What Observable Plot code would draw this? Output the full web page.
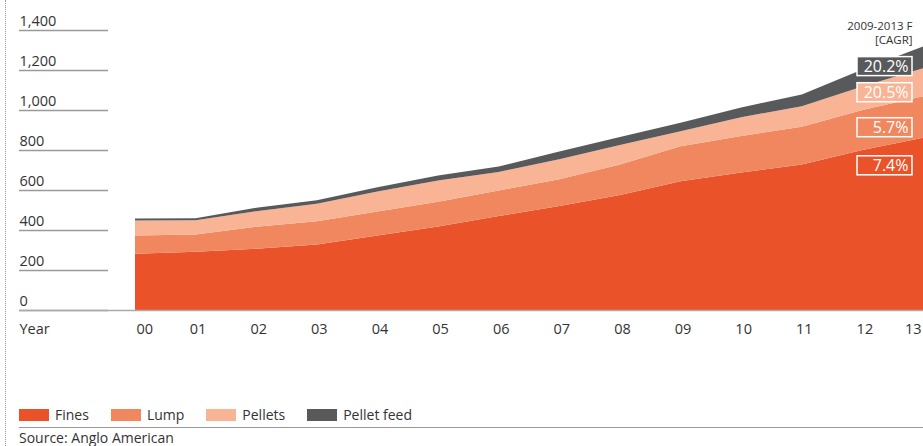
<!DOCTYPE html>
<html>
<head>
<meta charset="utf-8">
<script src="https://cdn.jsdelivr.net/npm/d3@7"></script>
<script src="https://cdn.jsdelivr.net/npm/@observablehq/plot@0.6"></script>
<style>
  html, body { margin: 0; padding: 0; background: #fff; }
  #wrap { position: relative; width: 923px; height: 446px; overflow: hidden; font-family: "Open Sans", sans-serif; color: #333; }
  #dots { position: absolute; left: 5px; top: 0; bottom: 0; border-left: 1px dotted #999; }
  #legend { position: absolute; left: 19px; top: 406px; display: flex; align-items: center; font-size: 14px; line-height: 17px; }
  #legend .item { display: flex; align-items: center; margin-right: 22px; }
  #legend .sw { width: 30px; height: 12px; margin-right: 6px; }
  #rule { position: absolute; left: 19px; right: 0; top: 427px; border-top: 1.5px solid #9a9a9a; }
  #source { position: absolute; left: 19px; top: 428px; font-size: 14px; line-height: 19px; }
</style>
</head>
<body>
<div id="wrap">
  <div id="chart"></div>
  <div id="legend"></div>
  <div id="rule"></div>
  <div id="source">Source: Anglo American</div>
  <div id="dots"></div>
</div>
<script>
// Seaborne iron ore demand by product, 2000–2013 (2009–2013 forecast)
const years = [2000, 2001, 2002, 2003, 2004, 2005, 2006, 2007, 2008, 2009, 2010, 2011, 2012, 2013];
const yearLabels = ["00", "01", "02", "03", "04", "05", "06", "07", "08", "09", "10", "11", "12", "13"];
const fines      = [281, 291, 306, 327, 372, 417, 470, 520, 575, 644, 688, 727, 800, 861];
const lump       = [91, 86, 110, 117, 120, 124, 128, 134, 152, 175, 182, 189, 200, 208];
const pellets    = [75, 72, 78, 87, 100, 106, 92, 100, 98, 75, 94, 103, 117, 140];
const pelletFeed = [10, 10, 17, 18, 22, 25, 28, 38, 40, 42, 48, 59, 85, 108];
const series = ["Fines", "Lump", "Pellets", "Pellet feed"];
const cagr = ["7.4%", "5.7%", "20.5%", "20.2%"];
const yTicks = [0, 200, 400, 600, 800, 1000, 1200, 1400];

const colors = ["#EA5329", "#F1875E", "#F8B494", "#58595B"];
const seriesValues = [fines, lump, pellets, pelletFeed];

const rows = series.flatMap((s, i) =>
  years.map((year, j) => ({series: s, year, value: seriesValues[i][j]}))
);

// Growth-rate boxes sit just under the top of each band at the final year
const last = years.length - 1;
let running = 0;
const notes = series.map((s, i) => {
  running += seriesValues[i][last];
  return {series: s, year: years[last], top: running, label: cagr[i], color: colors[i]};
});
const noteShift = {"Fines": 27.5, "Lump": 31, "Pellets": 24, "Pellet feed": 19.5};

const labelFont = 14.5;
const textColor = "#333";

const noteMarks = notes.flatMap(n => [
  Plot.rect([n], {
    x1: "year", x2: "year", y1: "top", y2: "top",
    insetLeft: -66, insetRight: 11, insetTop: -9.5, insetBottom: -9.5,
    dy: noteShift[n.series],
    fill: n.color, stroke: "white", strokeWidth: 1.5
  }),
  Plot.text([n], {
    x: "year", y: "top", text: "label",
    dx: -15, dy: noteShift[n.series],
    textAnchor: "end", fill: "white", fontSize: 16
  })
]);

const chart = Plot.plot({
  width: 923,
  height: 345,
  marginLeft: 135,
  marginRight: 0,
  marginTop: 30,
  marginBottom: 35,
  style: {fontFamily: "'Open Sans', sans-serif", overflow: "visible", background: "white"},
  x: {domain: [years[0], years[last]], axis: null},
  y: {domain: [0, 1400], axis: null},
  color: {domain: series, range: colors},
  marks: [
    Plot.areaY(rows, {x: "year", y: "value", fill: "series", order: series, curve: "linear"}),
    // short value rules to the left of the plot, with labels sitting on them
    Plot.ruleY(yTicks, {y: d => d, stroke: "#9a9a9a", strokeWidth: 1.3, insetLeft: -116, insetRight: 815}),
    Plot.ruleY([0], {stroke: "#aaa", strokeWidth: 1.5, insetLeft: -116}),
    Plot.text(yTicks, {
      y: d => d, text: d => d3.format(",")(d), frameAnchor: "left",
      textAnchor: "start", dx: -116, dy: -9, fontSize: labelFont, fill: textColor
    }),
    // year labels along the bottom
    Plot.text(["Year"], {text: d => d, frameAnchor: "bottom-left", textAnchor: "start", dx: -116, dy: 23, fontSize: labelFont, fill: textColor}),
    Plot.text(years.slice(0, 1), {x: d => d, text: () => yearLabels[0], frameAnchor: "bottom", textAnchor: "start", dx: 1, dy: 23, fontSize: labelFont, fill: textColor}),
    Plot.text(years.slice(1, last), {x: d => d, text: (d, i) => yearLabels[i + 1], frameAnchor: "bottom", textAnchor: "middle", dx: 2, dy: 23, fontSize: labelFont, fill: textColor}),
    Plot.text(years.slice(last), {x: d => d, text: () => yearLabels[last], frameAnchor: "bottom", textAnchor: "end", dx: -2, dy: 23, fontSize: labelFont, fill: textColor}),
    ...noteMarks,
    Plot.text(["2009-2013 F"], {
      text: d => d, frameAnchor: "top-right", textAnchor: "end",
      dx: -11, dy: -9, fontSize: 11.5, fill: textColor
    }),
    Plot.text(["[CAGR]"], {
      text: d => d, frameAnchor: "top-right", textAnchor: "end",
      dx: -11, dy: 5.5, fontSize: 11.5, fill: textColor
    })
  ]
});
document.getElementById("chart").appendChild(chart);

// Legend
const legend = d3.select("#legend");
series.forEach((s, i) => {
  const item = legend.append("div").attr("class", "item");
  item.append("div").attr("class", "sw").style("background", colors[i]);
  item.append("span").text(s);
});
</script>
</body>
</html>
